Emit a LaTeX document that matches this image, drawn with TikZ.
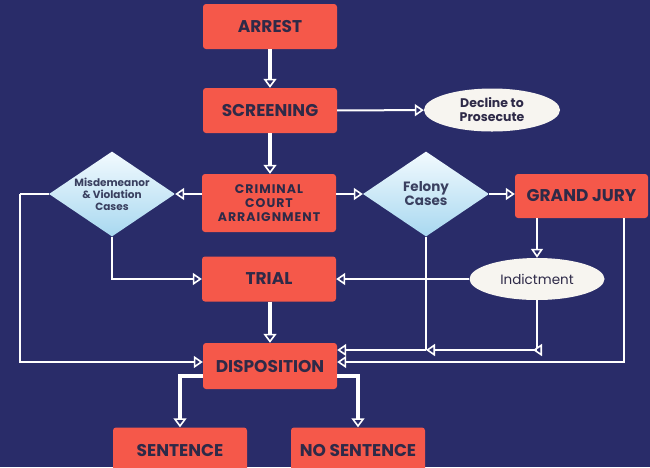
\documentclass[tikz,border=0pt]{standalone}
\usepackage{fontspec}
\setmainfont{Poppins}
\usetikzlibrary{arrows.meta,shapes.geometric,calc}
\definecolor{bg}{HTML}{292C69}
\definecolor{boxred}{HTML}{F5584A}
\definecolor{boxtxt}{HTML}{2E2A48}
\definecolor{dtxt}{HTML}{3A4060}
\definecolor{dtop}{HTML}{F2FAFE}
\definecolor{dbot}{HTML}{A8D8F0}
\definecolor{ellfill}{HTML}{F7F5F0}
\tikzset{
  stepbox/.style={rectangle, rounded corners=3pt, fill=boxred, text=boxtxt,
    font=\bfseries\fontsize{17}{19}\selectfont, minimum width=134pt, minimum height=45pt,
    inner sep=0pt, align=center},
  decbox/.style={diamond, aspect=1.48, inner sep=0pt, minimum width=126pt, minimum height=85pt,
    top color=dtop, bottom color=dbot, text=dtxt, align=center,
    font=\bfseries\fontsize{10.5}{12}\selectfont},
  endell/.style={ellipse, fill=ellfill, text=boxtxt, inner sep=0pt, align=center,
    minimum width=136pt, minimum height=43pt, font=\bfseries\fontsize{12.5}{14}\selectfont},
  lin/.style={draw=white, line width=2pt},
  conn/.style={lin, -{Triangle[length=9pt,width=12pt,fill=bg,line width=1.6pt]}},
  thickconn/.style={draw=white, line width=3.2pt, -{Triangle[length=9pt,width=13pt,fill=bg,line width=1.6pt]}},
}
\begin{document}
\begin{tikzpicture}[x=1pt,y=-1pt]
\fill[bg] (0,0) rectangle (650,467);
\useasboundingbox (0,0) rectangle (650,467);
% nodes
\node[stepbox] (arrest) at (270,26.5) {ARREST};
\node[stepbox] (screen) at (270,110.5) {SCREENING};
\node[endell] (decline) at (492,110) {Decline to\\Prosecute};
\node[stepbox, minimum height=58pt, font=\bfseries\fontsize{12.5}{14}\selectfont] (cca) at (269,203)
  {\addfontfeature{LetterSpace=8}CRIMINAL\\\addfontfeature{LetterSpace=8}COURT\\\addfontfeature{LetterSpace=8}ARRAIGNMENT};
\node[decbox] (misd) at (112,194) {Misdemeanor\\\& Violation\\Cases};
\node[decbox, font=\bfseries\fontsize{13.5}{14}\selectfont] (fel) at (426,194) {Felony\\Cases};
\node[stepbox, minimum width=133pt, minimum height=44pt] (gj) at (581.5,196) {GRAND JURY};
\node[endell, minimum width=135pt, minimum height=42pt, font=\fontsize{13.5}{15}\selectfont] (ind) at (537,279) {Indictment};
\node[stepbox] (trial) at (269,279) {TRIAL};
\node[stepbox, minimum height=46pt] (disp) at (270,366) {DISPOSITION};
\node[stepbox] (sent) at (180,450) {SENTENCE};
\node[stepbox] (nosent) at (358,450) {NO SENTENCE};
% junctions
\coordinate (j1) at (537,350);
\coordinate (j2) at (426,350);
\coordinate (mleft) at (20,194);
% connectors
\draw[thickconn] (arrest) -- (screen);
\draw[conn] (screen) -- (decline);
\draw[thickconn] (screen.south) -- (screen.south|-cca.north);
\draw[conn] (misd.east-|cca.west) -- (misd.east);
\draw[conn] (fel.west-|cca.east) -- (fel.west);
\draw[conn] (fel.east) -- (fel.east-|gj.west);
\draw[conn] (misd.south) |- (trial.west);
\draw[lin] (misd.west) -- (mleft);
\draw[conn] (mleft) |- ([yshift=4pt]disp.west);
\draw[conn] (ind.north|-gj.south) -- (ind.north);
\draw[conn] (ind.west) -- (trial.east);
\draw[thickconn] (trial.south-|disp.north) -- (disp.north);
\draw[lin] (ind.south) -- (j1);
\draw[conn] (j1) -- ++(-4,0);
\draw[conn] (j1) -- (j2);
\draw[lin] (fel.south) -- (j2);
\draw[conn] (j2) -- (j2-|disp.east);
\draw[conn] ([xshift=42.5pt]gj.south) |- ([yshift=4pt]disp.east);
\draw[thickconn] ([yshift=-10pt]disp.west) -| (sent.north);
\draw[thickconn] ([yshift=-10pt]disp.east) -| (nosent.north);
\end{tikzpicture}
\end{document}
